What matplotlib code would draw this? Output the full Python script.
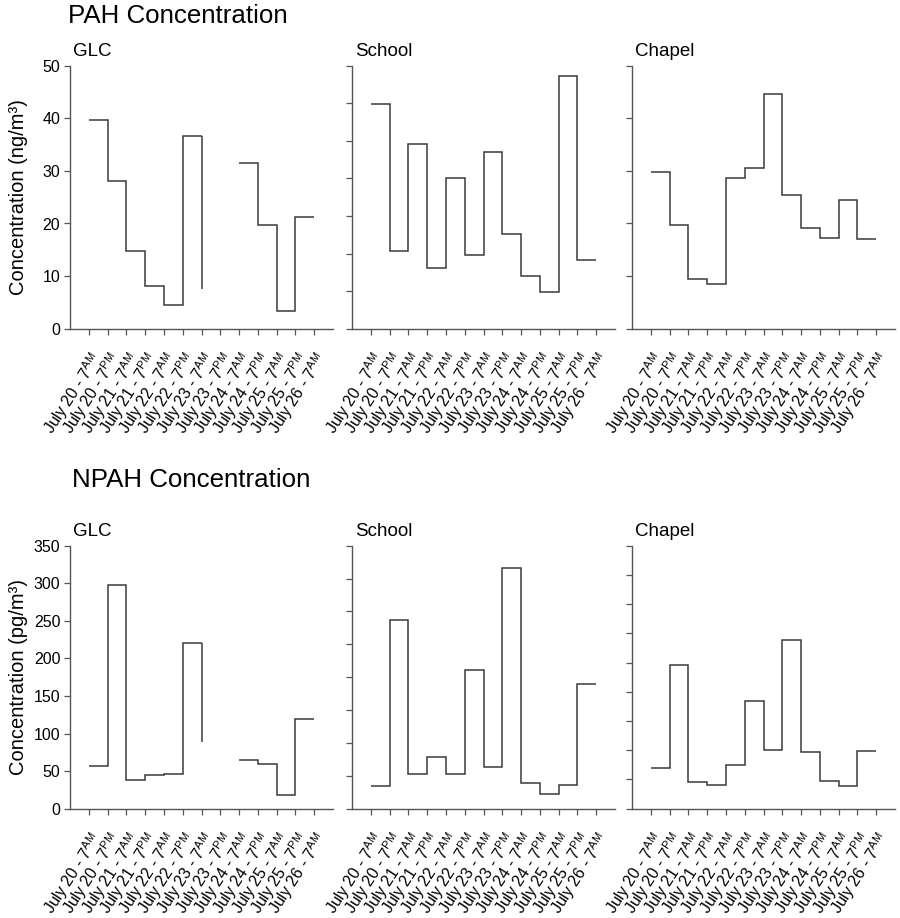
import numpy as np
import matplotlib
matplotlib.use("Agg")
import matplotlib.pyplot as plt

plt.rcParams['font.family'] = ['Liberation Sans', 'DejaVu Sans']
plt.rcParams['mathtext.fontset'] = 'custom'
plt.rcParams['mathtext.rm'] = 'Liberation Sans'

# sampling periods (12 half-day samples, 13 boundaries)
tick_labels = [
    r'July 20 - 7$^{\mathrm{AM}}$', r'July 20 - 7$^{\mathrm{PM}}$',
    r'July 21 - 7$^{\mathrm{AM}}$', r'July 21 - 7$^{\mathrm{PM}}$',
    r'July 22 - 7$^{\mathrm{AM}}$', r'July 22 - 7$^{\mathrm{PM}}$',
    r'July 23 - 7$^{\mathrm{AM}}$', r'July 23 - 7$^{\mathrm{PM}}$',
    r'July 24 - 7$^{\mathrm{AM}}$', r'July 24 - 7$^{\mathrm{PM}}$',
    r'July 25 - 7$^{\mathrm{AM}}$', r'July 25 - 7$^{\mathrm{PM}}$',
    r'July 26 - 7$^{\mathrm{AM}}$',
]
sites = ['GLC', 'School', 'Chapel']
nan = np.nan

# PAH (ng/m3), one value per sampling period
pah_glc = [39.6, 28.0, 14.8, 8.1, 4.6, 36.6, nan, nan, 31.5, 19.8, 3.4, 21.2]
pah_school = [59.8, 20.7, 49.1, 16.1, 40.1, 19.7, 47.1, 25.3, 13.9, 9.9, 67.3, 18.2]
pah_chapel = [29.7, 19.8, 9.5, 8.5, 28.6, 30.6, 44.7, 25.4, 19.2, 17.2, 24.4, 17.1]
pah_glc_drop = 7.6  # level the GLC trace falls to before the gap

# NPAH (pg/m3)
npah_glc = [56.5, 298.0, 38.5, 44.8, 45.8, 220.5, nan, nan, 64.3, 59.9, 18.4, 119.8]
npah_school = [34.0, 287.0, 52.2, 79.1, 53.2, 211.4, 62.9, 366.0, 39.0, 22.3, 36.5, 190.1]
npah_chapel = [69.0, 245.3, 46.2, 40.5, 74.7, 184.3, 99.8, 288.6, 97.0, 47.9, 38.2, 98.1]
npah_glc_drop = 88.3

pah_ylim = [50, 70, 50]
pah_step = [10, 10, 10]
npah_ylim = [350, 400, 450]
npah_step = [50, 50, 50]

W, H = 900, 918
fig = plt.figure(figsize=(W / 100, H / 100), dpi=100)

line_col = '#3a3a3a'
axis_col = '#555555'
ax_lefts = [70, 352, 632]
ax_w = 263
ax_h = 263
row_bottoms = [328.7, 808.7]

def make_ax(left_px, bottom_px):
    return fig.add_axes([left_px / W, 1 - bottom_px / H, ax_w / W, ax_h / H])

def draw_panel(ax, vals, ymax, ystep, title, drop=None, show_labels=False, unit=''):
    edges = np.arange(len(vals) + 1)
    ax.stairs(vals, edges, baseline=None, color=line_col, lw=1.1)
    if drop is not None:
        v = np.array(vals)
        last = np.where(~np.isnan(v))[0]
        i = last[last < np.argmax(np.isnan(v))][-1]
        ax.vlines(i + 1, drop, v[i], color=line_col, lw=1.1)
    ax.set_xlim(-1, 13)
    ax.set_ylim(0, ymax)
    ax.set_yticks(np.arange(0, ymax + 1, ystep))
    ax.set_xticks(np.arange(13))
    ax.set_xticklabels(tick_labels, rotation=57, ha='right', va='top',
                       rotation_mode='anchor', fontsize=10)
    for s in ['top', 'right']:
        ax.spines[s].set_visible(False)
    for s in ['left', 'bottom']:
        ax.spines[s].set_color(axis_col)
        ax.spines[s].set_linewidth(1.0)
    ax.tick_params(axis='both', direction='out', length=4, width=0.9,
                   color=axis_col, labelsize=11.5, pad=3)
    ax.tick_params(axis='x', pad=11)
    if show_labels:
        ax.set_ylabel('Concentration (' + unit + '/m³)', fontsize=14.5)
        ax.yaxis.set_label_coords(-0.16, 0.5)
    else:
        ax.set_yticklabels([])
    ax.text(0.01, 1.035, title, transform=ax.transAxes, fontsize=13.5,
            va='baseline', ha='left')

pah = [pah_glc, pah_school, pah_chapel]
npah = [npah_glc, npah_school, npah_chapel]
drops_pah = [pah_glc_drop, None, None]
drops_npah = [npah_glc_drop, None, None]

for k in range(3):
    ax = make_ax(ax_lefts[k], row_bottoms[0])
    draw_panel(ax, pah[k], pah_ylim[k], pah_step[k], sites[k], drops_pah[k],
               show_labels=(k == 0), unit='ng')
    ax = make_ax(ax_lefts[k], row_bottoms[1])
    draw_panel(ax, npah[k], npah_ylim[k], npah_step[k], sites[k], drops_npah[k],
               show_labels=(k == 0), unit='pg')

fig.text(68 / W, 1 - 23 / H, 'PAH Concentration', fontsize=18.6, va='baseline')
fig.text(72 / W, 1 - 487 / H, 'NPAH Concentration', fontsize=18.6, va='baseline')

fig.savefig('out.png', dpi=100, facecolor='white')
